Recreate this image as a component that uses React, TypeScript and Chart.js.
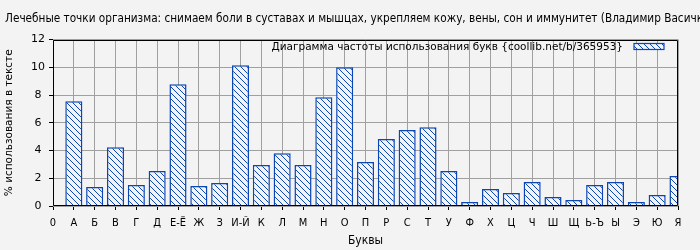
import React, { useEffect, useRef } from 'react';
import { Chart, registerables } from 'chart.js';

Chart.register(...registerables);

const categories = ['0', 'А', 'Б', 'В', 'Г', 'Д', 'Е-Ё', 'Ж', 'З', 'И-Й', 'К', 'Л', 'М', 'Н', 'О', 'П', 'Р', 'С', 'Т', 'У', 'Ф', 'Х', 'Ц', 'Ч', 'Ш', 'Щ', 'Ь-Ъ', 'Ы', 'Э', 'Ю', 'Я'];
const frequencies = [null, 7.55, 1.37, 4.24, 1.51, 2.52, 8.78, 1.44, 1.65, 10.14, 2.95, 3.81, 2.95, 7.84, 10.0, 3.17, 4.82, 5.47, 5.68, 2.52, 0.29, 1.22, 0.94, 1.73, 0.65, 0.43, 1.51, 1.73, 0.29, 0.79, 2.16];
const yMin = 0;
const yMax = 12;
const yStep = 2;

const chartTitle = 'Лечебные точки организма: снимаем боли в суставах и мышцах, укрепляем кожу, вены, сон и иммунитет (Владимир Васичкин)';
const legendLabel = 'Диаграмма частоты использования букв {coollib.net/b/365953}';
const xTitle = 'Буквы';
const yTitle = '% использования в тексте';

const BG = '#f3f3f3';
const BLUE = '#0a46b4';
const GRID = '#a0a0a0';
const COND = "'DejaVu Sans Condensed', 'Liberation Sans Narrow', 'DejaVu Sans', sans-serif";
const REG = "'DejaVu Sans', sans-serif";

function makePattern(ctx: CanvasRenderingContext2D) {
  const s = 6;
  const c = document.createElement('canvas');
  c.width = s;
  c.height = s;
  const g = c.getContext('2d')!;
  g.fillStyle = BG;
  g.fillRect(0, 0, s, s);
  g.strokeStyle = BLUE;
  g.lineWidth = 1;
  g.beginPath();
  g.moveTo(-1, -1);
  g.lineTo(s + 1, s + 1);
  g.moveTo(s - 1, -1);
  g.lineTo(s + 1, 1);
  g.moveTo(-1, s - 1);
  g.lineTo(1, s + 1);
  g.stroke();
  return ctx.createPattern(c, 'repeat')!;
}

export default function App() {
  const ref = useRef<HTMLCanvasElement | null>(null);
  useEffect(() => {
    const canvas = ref.current!;
    const ctx = canvas.getContext('2d')!;
    const pattern = makePattern(ctx);

    const bgPlugin = {
      id: 'bg',
      beforeDraw(chart: any) {
        const c = chart.ctx;
        c.save();
        c.fillStyle = BG;
        c.fillRect(0, 0, chart.width, chart.height);
        c.restore();
      },
    };

    const framePlugin = {
      id: 'frame',
      afterDatasetsDraw(chart: any) {
        const c = chart.ctx;
        const a = chart.chartArea;
        const l = Math.round(a.left) + 0.5;
        const r = Math.round(a.right) - 0.5;
        const t = Math.round(a.top) + 0.5;
        const b = Math.round(a.bottom) - 0.5;
        c.save();
        c.strokeStyle = '#000';
        c.lineWidth = 1;
        c.beginPath();
        c.moveTo(l, t);
        c.lineTo(r, t);
        c.lineTo(r, b);
        c.lineTo(l, b);
        c.closePath();
        c.stroke();
        c.restore();
      },
      afterDraw(chart: any) {
        const c = chart.ctx;
        c.save();
        // title
        c.fillStyle = '#000';
        c.font = `11.7px ${COND}`;
        c.textAlign = 'left';
        c.textBaseline = 'middle';
        c.fillText(chartTitle, 5, 19);
        // legend
        c.font = `10.5px ${REG}`;
        c.textAlign = 'right';
        c.fillText(legendLabel, 623, 47);
        c.fillStyle = pattern;
        c.fillRect(634, 43.5, 30, 6);
        c.strokeStyle = BLUE;
        c.lineWidth = 1.2;
        c.strokeRect(634, 43.5, 30, 6);
        c.restore();
      },
    };

    const chart = new Chart(canvas, {
      type: 'bar',
      data: {
        labels: categories,
        datasets: [
          {
            label: legendLabel,
            data: frequencies as any,
            backgroundColor: pattern,
            borderColor: BLUE,
            borderWidth: 1.5,
            barPercentage: 0.82,
            categoryPercentage: 1,
            clip: 0,
          },
        ],
      },
      options: {
        responsive: false,
        animation: false,
        devicePixelRatio: 1,
        layout: { padding: { left: 0, right: 22, top: 39.5, bottom: 0 } },
        plugins: {
          legend: { display: false },
          title: { display: false },
          tooltip: { enabled: false },
        },
        scales: {
          x: {
            type: 'category',
            offset: false,
            grid: {
              offset: false,
              color: GRID,
              borderDash: [2, 3],
              tickLength: 4,
              tickColor: '#000',
              tickBorderDash: [],
            } as any,
            border: { display: false },
            ticks: {
              autoSkip: false,
              maxRotation: 0,
              padding: 7,
              color: '#000',
              font: { family: COND, size: 11 },
            },
            title: {
              display: true,
              text: xTitle,
              color: '#000',
              font: { family: COND, size: 12 },
              padding: { top: 0, bottom: 2 },
            },
            afterFit(scale: any) {
              scale.height = 44;
            },
          },
          y: {
            min: yMin,
            max: yMax,
            ticks: {
              stepSize: yStep,
              crossAlign: 'center',
              padding: 4,
              color: '#000',
              font: { family: REG, size: 11 },
            },
            grid: {
              color: GRID,
              borderDash: [2, 3],
              tickLength: 4,
              tickColor: '#000',
              tickBorderDash: [],
            } as any,
            border: { display: false },
            title: {
              display: true,
              text: yTitle,
              color: '#000',
              font: { family: REG, size: 10.5 },
              padding: { top: 3, bottom: 0 },
            },
            afterFit(scale: any) {
              scale.width = 53;
            },
          },
        },
      },
      plugins: [bgPlugin, framePlugin],
    });
    return () => chart.destroy();
  }, []);

  return (
    <div style={{ position: 'fixed', left: 0, top: 0, width: 700, height: 250 }}>
      <canvas ref={ref} width={700} height={250} style={{ width: 700, height: 250, display: 'block' }} />
    </div>
  );
}
